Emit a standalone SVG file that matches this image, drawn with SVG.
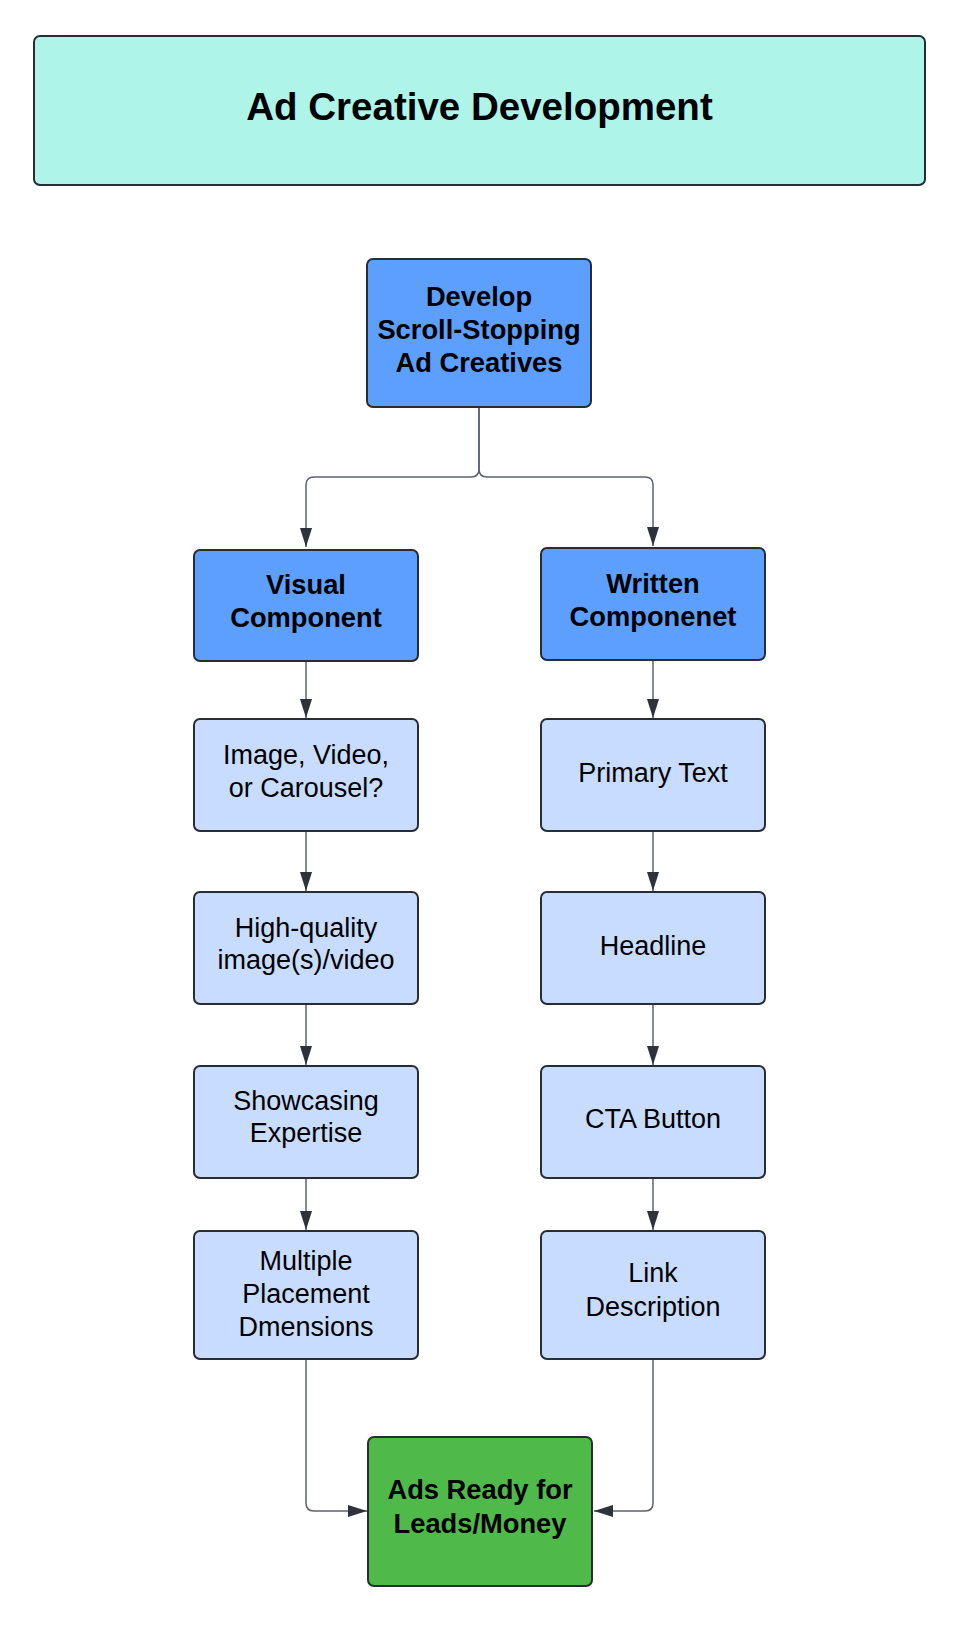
<svg xmlns="http://www.w3.org/2000/svg" width="964" height="1626" viewBox="0 0 964 1626">
<style>
.box{stroke:#282c33;stroke-width:2}
.title{fill:#aef4e8}
.main{fill:#5c9ffe}
.sub{fill:#c8dcff}
.end{fill:#4fba49}
.t{font-family:"Liberation Sans",Arial,sans-serif;font-size:27px;fill:#000;text-anchor:middle}
.b{font-weight:bold;font-size:27.3px}
.conn{fill:none;stroke:#5b6270;stroke-width:1.5}
</style>
<defs>
<marker id="arr" markerUnits="userSpaceOnUse" markerWidth="19" markerHeight="12" refX="19" refY="6" orient="auto">
<path d="M0,0 L19,6 L0,12 Z" fill="#2e333b"/>
</marker>
</defs>
<rect width="964" height="1626" fill="#ffffff"/>

<g id="connectors">
<path class="conn" d="M479,408 V469 Q479,477 471,477 H314 Q306,477 306,485 V547" marker-end="url(#arr)"/>
<path class="conn" d="M479,408 V469 Q479,477 487,477 H645 Q653,477 653,485 V546" marker-end="url(#arr)"/>
<path class="conn" d="M306,662 V718" marker-end="url(#arr)"/>
<path class="conn" d="M306,832 V891" marker-end="url(#arr)"/>
<path class="conn" d="M306,1005 V1065" marker-end="url(#arr)"/>
<path class="conn" d="M306,1179 V1230" marker-end="url(#arr)"/>
<path class="conn" d="M653,661 V718" marker-end="url(#arr)"/>
<path class="conn" d="M653,832 V891" marker-end="url(#arr)"/>
<path class="conn" d="M653,1005 V1065" marker-end="url(#arr)"/>
<path class="conn" d="M653,1179 V1230" marker-end="url(#arr)"/>
<path class="conn" d="M306,1360 V1503 Q306,1511 314,1511 H367" marker-end="url(#arr)"/>
<path class="conn" d="M653,1360 V1503 Q653,1511 645,1511 H594" marker-end="url(#arr)"/>
</g>

<g id="title">
<rect class="box title" x="34" y="36" width="891" height="149" rx="6"/>
<text class="t b" x="479.5" y="120" style="font-size:38.5px">Ad Creative Development</text>
</g>

<g id="develop">
<rect class="box main" x="367" y="259" width="224" height="148" rx="6"/>
<text class="t b" x="479" y="306">Develop</text>
<text class="t b" x="479" y="339">Scroll-Stopping</text>
<text class="t b" x="479" y="372">Ad Creatives</text>
</g>

<g id="visual">
<rect class="box main" x="194" y="550" width="224" height="111" rx="6"/>
<text class="t b" x="306" y="594">Visual</text>
<text class="t b" x="306" y="627">Component</text>
</g>

<g id="written">
<rect class="box main" x="541" y="548" width="224" height="112" rx="6"/>
<text class="t b" x="653" y="593">Written</text>
<text class="t b" x="653" y="626">Componenet</text>
</g>

<g id="image-video">
<rect class="box sub" x="194" y="719" width="224" height="112" rx="6"/>
<text class="t" x="306" y="764">Image, Video,</text>
<text class="t" x="306" y="797">or Carousel?</text>
</g>

<g id="high-quality">
<rect class="box sub" x="194" y="892" width="224" height="112" rx="6"/>
<text class="t" x="306" y="937">High-quality</text>
<text class="t" x="306" y="969">image(s)/video</text>
</g>

<g id="showcasing">
<rect class="box sub" x="194" y="1066" width="224" height="112" rx="6"/>
<text class="t" x="306" y="1110">Showcasing</text>
<text class="t" x="306" y="1142">Expertise</text>
</g>

<g id="multiple">
<rect class="box sub" x="194" y="1231" width="224" height="128" rx="6"/>
<text class="t" x="306" y="1270">Multiple</text>
<text class="t" x="306" y="1303">Placement</text>
<text class="t" x="306" y="1336">Dmensions</text>
</g>

<g id="primary-text">
<rect class="box sub" x="541" y="719" width="224" height="112" rx="6"/>
<text class="t" x="653" y="782">Primary Text</text>
</g>

<g id="headline">
<rect class="box sub" x="541" y="892" width="224" height="112" rx="6"/>
<text class="t" x="653" y="955">Headline</text>
</g>

<g id="cta">
<rect class="box sub" x="541" y="1066" width="224" height="112" rx="6"/>
<text class="t" x="653" y="1128">CTA Button</text>
</g>

<g id="link">
<rect class="box sub" x="541" y="1231" width="224" height="128" rx="6"/>
<text class="t" x="653" y="1282">Link</text>
<text class="t" x="653" y="1316">Description</text>
</g>

<g id="ads-ready">
<rect class="box end" x="368" y="1437" width="224" height="149" rx="6"/>
<text class="t b" x="480" y="1499">Ads Ready for</text>
<text class="t b" x="480" y="1533">Leads/Money</text>
</g>
</svg>
